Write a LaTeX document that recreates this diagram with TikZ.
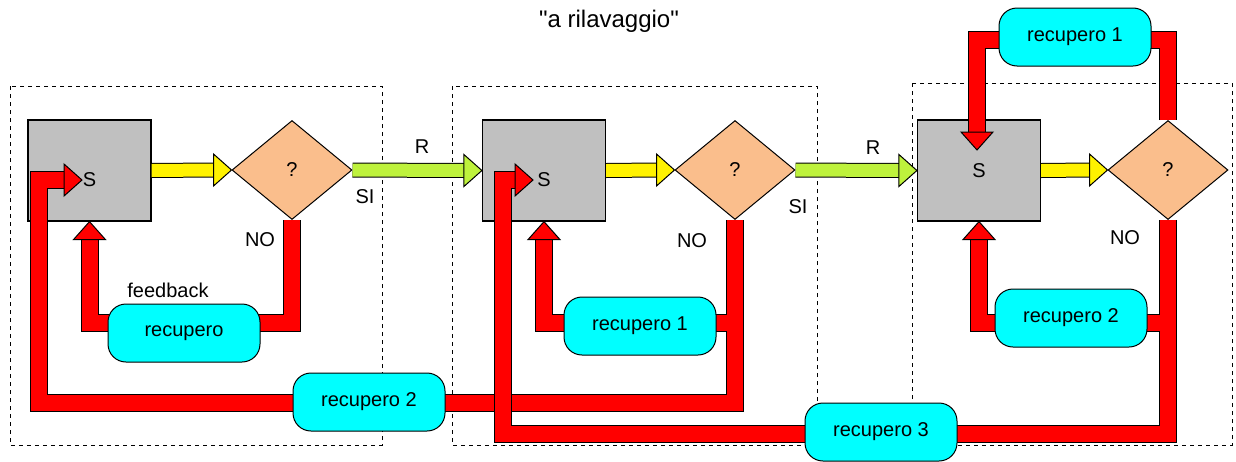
\documentclass[tikz,border=0pt]{standalone}
\usepackage{fontspec}
\setmainfont{Liberation Sans}
\newfontfamily\plainfont{Liberation Sans}
\usetikzlibrary{shapes.geometric}

\definecolor{boxgray}{RGB}{192,192,192}
\definecolor{peach}{RGB}{250,190,140}
\definecolor{flowgreen}{RGB}{190,242,60}
\definecolor{recfill}{RGB}{0,255,255}

\pgfdeclarelayer{back}
\pgfdeclarelayer{front}
\pgfsetlayers{back,main,front}

\tikzset{
    stage/.style={draw, line width=0.5pt, dash pattern=on 2pt off 2pt},
    sbox/.style={draw, line width=0.6pt, fill=boxgray, minimum width=61.5pt, minimum height=50.5pt, inner sep=0pt},
    test/.style={diamond, draw, line width=0.5pt, fill=peach, aspect=1.2, minimum width=60pt, minimum height=49.5pt, inner sep=0pt},
    recbox/.style={draw, line width=0.5pt, fill=recfill, rounded corners=9pt, minimum width=76pt, minimum height=29pt},
    pipe/.style={draw=#1, line width=8pt, preaction={draw=black, line width=9pt}},
    flow/.style={draw=#1, line width=6.5pt, preaction={draw=black, line width=7.5pt}},
    head/.pic={\path[draw=black, line width=0.5pt, pic actions] (0,0) -- (-9pt,8pt) -- (-9pt,-8pt) -- cycle;},
}

\begin{document}
\begin{tikzpicture}[x=0.5pt, y=-0.5pt, font=\fontsize{10}{12}\selectfont]
    \useasboundingbox (0,0) rectangle (1236,461);

    % Stages
    \begin{pgfonlayer}{back}
        \draw[stage] (10,86) rectangle (382,445);
        \draw[stage] (452,86) rectangle (817,445);
        \draw[stage] (912,83) rectangle (1232,445);
    \end{pgfonlayer}

    % Blocks
    \node[sbox] (S1) at (89.5,170.5) {\raisebox{-8pt}[0pt][0pt]{S}};
    \node[sbox] (S2) at (544,170.5) {\raisebox{-8pt}[0pt][0pt]{S}};
    \node[sbox] (S3) at (979,170.5) {S};
    \node[test] (D1) at (292,170) {?};
    \node[test] (D2) at (735,170) {?};
    \node[test] (D3) at (1168,170) {?};

    % Recovery boxes
    \begin{pgfonlayer}{front}
        \node[recbox] (fb) at (184,333) {recupero};
        \node[recbox] (r21) at (640,326) {recupero 1};
        \node[recbox] (r22) at (369,402) {recupero 2};
        \node[recbox] (r31) at (1075,37) {recupero 1};
        \node[recbox] (r32) at (1071,318) {recupero 2};
        \node[recbox] (r33) at (881,432) {recupero 3};
    \end{pgfonlayer}

    % Entry points
    \coordinate (in1) at (82,180);
    \coordinate (in2) at (533,180);
    \coordinate (in3) at (977,150);
    \coordinate (j1) at (89.5,323);
    \coordinate (j2) at (727,323);
    \coordinate (j3) at (1160,323);

    % Forward flow
    \draw[flow=yellow] (S1.east) -- ([xshift=-9pt]D1.west);
    \pic[fill=yellow] at (D1.west) {head};
    \draw[flow=yellow] (S2.east) -- ([xshift=-9pt]D2.west);
    \pic[fill=yellow] at (D2.west) {head};
    \draw[flow=yellow] (S3.east) -- ([xshift=-9pt]D3.west);
    \pic[fill=yellow] at (D3.west) {head};
    \draw[flow=flowgreen] (D1.east) -- ([xshift=-9pt]S2.west);
    \pic[fill=flowgreen] at (S2.west) {head};
    \draw[flow=flowgreen] (D2.east) -- ([xshift=-9pt]S3.west);
    \pic[fill=flowgreen] at (S3.west) {head};

    % Recovery lines
    \draw[pipe=red] (D1.south) |- (j1) -- ([yshift=-9pt]S1.south);
    \pic[fill=red, rotate=90] at (S1.south) {head};
    \draw[pipe=red] (D2.south) |- (39,403) |- ([xshift=-9pt]in1);
    \pic[fill=red] at (in1) {head};
    \draw[pipe=red] (j2) -| ([yshift=-9pt]S2.south);
    \pic[fill=red, rotate=90] at (S2.south) {head};
    \draw[pipe=red] (D3.north) |- (977,40) -- ([yshift=9pt]in3);
    \pic[fill=red, rotate=-90] at (in3) {head};
    \draw[pipe=red] (D3.south) |- (503,434) |- ([xshift=-9pt]in2);
    \pic[fill=red] at (in2) {head};
    \draw[pipe=red] (j3) -| ([yshift=-9pt]S3.south);
    \pic[fill=red, rotate=90] at (S3.south) {head};

    % Labels
    \node (title) at (609,21) {\plainfont\fontsize{12}{14}\selectfont "a rilavaggio"};
    \node (R12) at (422,147) {R};
    \node (R23) at (873,148) {R};
    \node (si1) at (365,197) {SI};
    \node (si2) at (798,207) {SI};
    \node (no1) at (260,240) {NO};
    \node (no2) at (692,241) {NO};
    \node (no3) at (1125,238) {NO};
    \node (fblabel) at (168,290) {feedback};
\end{tikzpicture}
\end{document}
